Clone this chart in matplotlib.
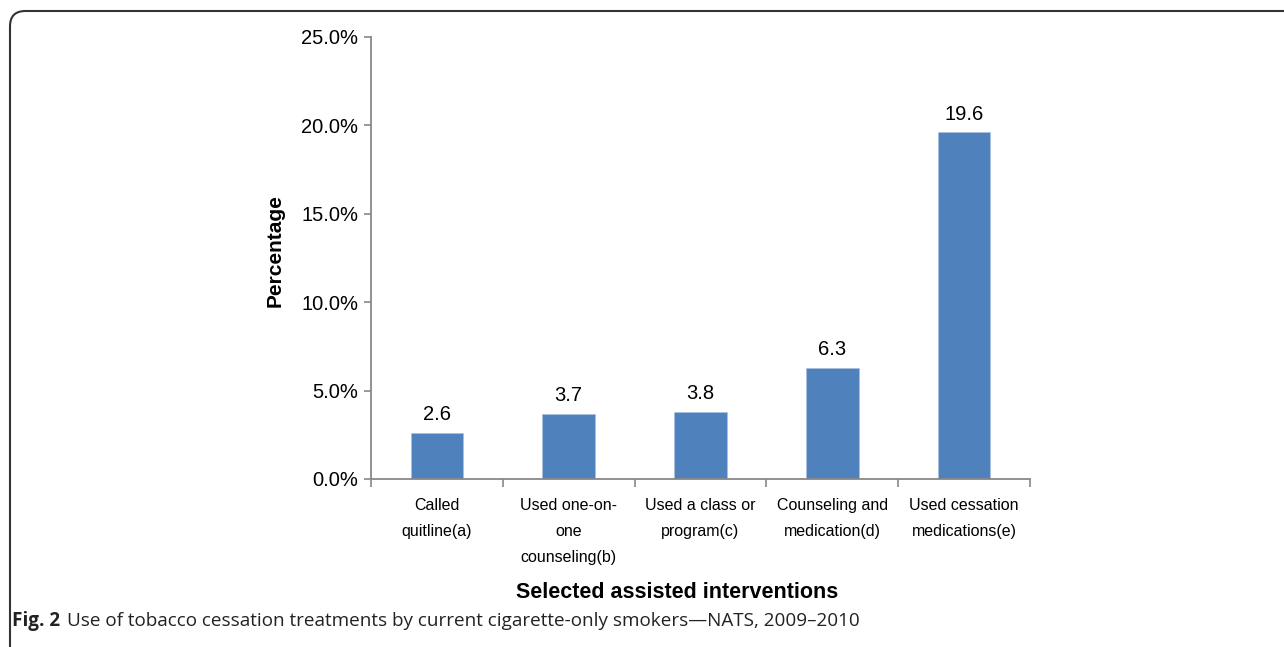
import numpy as np
import matplotlib.pyplot as plt
from matplotlib.patches import FancyBboxPatch

categories = ["Called\nquitline(a)", "Used one-on-\none\ncounseling(b)", "Used a class or\nprogram(c)",
              "Counseling and\nmedication(d)", "Used cessation\nmedications(e)"]
values = [2.6, 3.7, 3.8, 6.3, 19.6]
yticks = [0, 5, 10, 15, 20, 25]

plt.rcParams['font.family'] = ['Liberation Sans', 'DejaVu Sans']
fig = plt.figure(figsize=(12.84, 6.47), dpi=100)
ax = fig.add_axes([371/1284, 1-479/647, 659/1284, 442/647])

x = np.arange(len(values))
ax.bar(x, values, width=0.4, color='#4F81BD', edgecolor='#A9C1E0', linewidth=0.6)
for xi, v in zip(x, values):
    ax.text(xi, v + 0.5, f"{v:.1f}", ha='center', va='bottom', fontsize=14.5)

ax.set_xlim(-0.5, len(values) - 0.5)
ax.set_ylim(0, 25)
ax.set_yticks(yticks)
ax.set_yticklabels([f"{t:.1f}%" for t in yticks], fontsize=14.5)
ax.set_xticks(x)
ax.set_xticklabels(categories, fontsize=11.5, linespacing=1.9, va='top')
ax.set_xticks(np.arange(-0.5, len(values)), minor=True)
ax.tick_params(axis='x', which='major', length=0, pad=14)
ax.tick_params(axis='x', which='minor', length=6, color='#888888', width=1.2)
ax.tick_params(axis='y', length=5, color='#888888', width=1.2, pad=4)

for s in ['top', 'right']:
    ax.spines[s].set_visible(False)
for s in ['left', 'bottom']:
    ax.spines[s].set_color('#888888')
    ax.spines[s].set_linewidth(1.3)

ax.set_ylabel("Percentage", fontsize=15, fontweight='bold')
ax.yaxis.set_label_coords(-0.131, 0.516)
fig.text(677/1284, 1-592/647, "Selected assisted interventions", ha='center', va='center',
         fontsize=15.5, fontweight='bold')

# caption
fig.text(12/1284, 1-621/647, "Fig. 2", fontsize=13.6, fontweight='bold', family='Open Sans',
         color='#222222', va='center', ha='left')
fig.text(67/1284, 1-621/647, "Use of tobacco cessation treatments by current cigarette-only smokers\u2014NATS, 2009\u20132010",
         fontsize=13.6, family='Open Sans', color='#222222', va='center', ha='left')

# rounded frame around the figure
frame = FancyBboxPatch((10/1284, -0.05), 1.1, 1 - 11/647 + 0.05,
                       boxstyle="round,pad=0,rounding_size=0.012", transform=fig.transFigure,
                       fill=False, edgecolor='#333333', linewidth=1.5, clip_on=False,
                       mutation_aspect=1284/647)
fig.patches.append(frame)

fig.savefig("out.png", dpi=100)
